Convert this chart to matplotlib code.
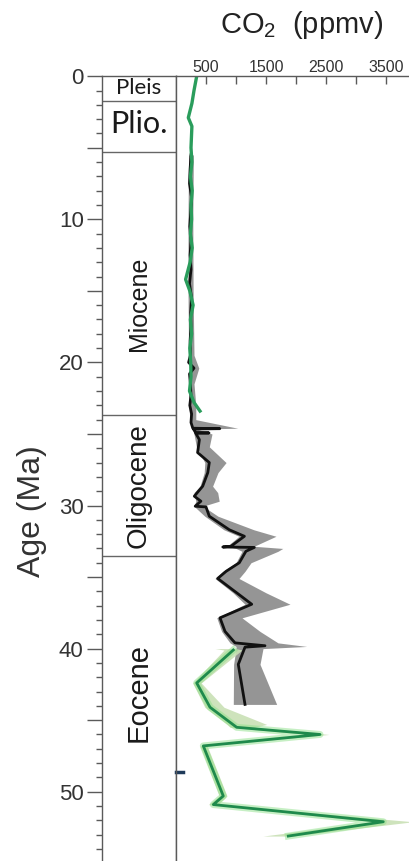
import matplotlib
matplotlib.use("Agg")
import matplotlib.pyplot as plt
from matplotlib.ticker import MultipleLocator, FuncFormatter

plt.rcParams['font.family'] = ['Liberation Sans', 'DejaVu Sans']
plt.rcParams['mathtext.fontset'] = 'custom'
plt.rcParams['mathtext.rm'] = 'Liberation Sans'
plt.rcParams['mathtext.it'] = 'Liberation Sans:italic'

# epochs (Ma)
epoch_names = ['Pleis', 'Plio.', 'Miocene', 'Oligocene', 'Eocene']
epoch_bounds = [1.7, 5.3, 23.7, 33.5]
epoch_label_age = [0.85, 3.35, 15.9, 28.6, 43.1]

# green record, 0-23 Ma
green_age = [0, 1.0, 1.9, 2.9, 3.5, 5.0, 6.0, 7.0, 8.0, 9.0, 10.0, 11.0, 12.0,
             13.0, 14.2, 15.0, 16.0, 17.0, 18.0, 19.0, 20.0, 21.0, 22.0, 22.8, 23.4]
green_co2 = [345, 300, 265, 205, 265, 250, 265, 240, 270, 250, 260, 240, 270,
             235, 160, 230, 285, 240, 260, 230, 245, 250, 225, 300, 400]

# black record with grey uncertainty band
black_age = [5.5, 6.5, 7.5, 8.5, 9.5, 10.5, 11.5, 12.5, 13.5, 14.5, 15.5, 16.5,
             17.5, 18.5, 19.5, 20.0, 20.4, 20.8, 21.5, 22.3, 23.0, 23.6, 24.2,
             24.6, 24.63, 24.66, 24.9, 24.93, 24.96, 25.4, 26.3, 27.0, 27.7,
             28.65, 29.35, 29.7, 30.05, 30.1, 30.75, 31.7, 32.15, 32.85, 32.9,
             32.93, 33.2, 34.0, 34.6, 35.1, 36.1, 36.9, 37.85, 38.8, 39.6, 39.8,
             39.9, 41.1, 43.9]
black_co2 = [250, 235, 225, 260, 245, 230, 250, 235, 250, 225, 260, 245,
             250, 235, 240, 210, 300, 225, 240, 250, 230, 260, 250,
             280, 730, 290, 330, 550, 330, 390, 360, 555, 530,
             445, 305, 415, 320, 500, 555, 890, 1140, 915, 780,
             1305, 1165, 1055, 835, 695, 1011, 1262, 733, 817, 983, 1483,
             1150, 1038, 1150]

band_age = [5.5, 10, 15, 19.5, 20.4, 21.5, 23.0, 24.0, 24.6, 24.66, 25.0, 25.9,
            27.0, 27.7, 28.65, 29.1, 29.7, 30.05, 30.75, 31.7, 32.15, 32.85,
            33.0, 33.2, 34.0, 34.6, 35.1, 36.1, 36.9, 37.85, 38.8, 39.6, 39.85,
            40.0, 41.1, 43.9]
band_lo = [210, 200, 200, 210, 230, 210, 215, 230, 260, 270, 300, 340,
           480, 470, 400, 300, 330, 300, 480, 800, 1050, 850,
           1000, 1100, 1000, 780, 650, 950, 1150, 680, 760, 900, 1000,
           1000, 960, 955]
band_hi = [290, 280, 285, 300, 380, 300, 330, 330, 1030, 350, 600, 555,
           835, 700, 610, 695, 720, 450, 700, 1300, 1667, 1300,
           1780, 1700, 1250, 1150, 1050, 1500, 1900, 1100, 1400, 1700, 2178,
           1450, 1400, 1678]

# green record, 40-53 Ma, with pale band
green2_age = [40.1, 42.4, 44.1, 45.5, 46.0, 46.8, 50.3, 50.9, 52.1, 53.1]
green2_co2 = [955, 345, 567, 1011, 2400, 455, 788, 622, 3455, 1872]
gband_age = [40.0, 40.1, 42.4, 44.1, 45.3, 45.5, 46.0, 46.8, 50.3, 50.9, 52.1, 53.1]
gband_lo = [650, 800, 280, 480, 850, 900, 2200, 400, 720, 540, 3300, 1450]
gband_hi = [1000, 1100, 420, 800, 1511, 1300, 2550, 520, 850, 700, 3950, 1950]

# small stray mark near the axis
mark_age = [48.6, 48.6]
mark_co2 = [0, 115]

co2_ticks = [500, 1000, 1500, 2000, 2500, 3000, 3500]
co2_labels = ['500', '', '1500', '', '2500', '', '3500']

W, H = 409, 861
age_max = (H - 76.2) / 14.31
top = (H - 76.2) / H
spine_c = '#5a5a5a'

fig = plt.figure(figsize=(W / 100, H / 100), dpi=100)
ax_ep = fig.add_axes([101.7 / W, 0, (176 - 101.7) / W, top])
ax = fig.add_axes([176 / W, 0, 1 - 176 / W, top], sharey=ax_ep)

# --- epoch column / age axis ---
ax_ep.set_xlim(0, 1)
ax_ep.set_ylim(age_max, 0)
ax_ep.spines['bottom'].set_visible(False)
for s in ['left', 'top', 'right']:
    ax_ep.spines[s].set_color(spine_c)
    ax_ep.spines[s].set_linewidth(1)
ax_ep.set_xticks([])
ax_ep.yaxis.set_major_locator(MultipleLocator(5))
ax_ep.yaxis.set_minor_locator(MultipleLocator(1))
ax_ep.yaxis.set_major_formatter(FuncFormatter(lambda v, p: '%d' % v if v % 10 == 0 else ''))
ax_ep.tick_params(axis='y', which='major', length=11, width=1, color=spine_c,
                  labelsize=16, labelcolor='#333333', pad=2)
ax_ep.tick_params(axis='y', which='minor', length=4, width=1, color=spine_c)

for b in epoch_bounds:
    ax_ep.axhline(b, color='#666666', lw=1)

sizes = [16, 22, 18, 20, 21]
fams = [['Lato', 'DejaVu Sans'], ['Lato', 'DejaVu Sans'], None, None, None]
for name, a, fs, fam in zip(epoch_names, epoch_label_age, sizes, fams):
    rot = 0 if name in ('Pleis', 'Plio.') else 90
    kw = {'family': fam} if fam else {}
    ax_ep.text(0.5, a, name, ha='center', va='center', rotation=rot,
               fontsize=fs, color='#1a1a1a', **kw)

fig.text(32 / W, 1 - 511 / H, 'Age (Ma)', rotation=90, ha='center', va='center',
         fontsize=23, color='#333333')

# --- CO2 panel ---
ax.set_xlim(0, (W - 176) * 1000 / 60)
for s in ['right', 'bottom']:
    ax.spines[s].set_visible(False)
for s in ['left', 'top']:
    ax.spines[s].set_color(spine_c)
    ax.spines[s].set_linewidth(1)
ax.xaxis.tick_top()
ax.set_xticks(co2_ticks)
ax.set_xticklabels(co2_labels)
ax.tick_params(axis='x', direction='in', length=6, width=1, color=spine_c,
               labelsize=11.5, labelcolor='#333333', pad=1)
ax.tick_params(axis='y', which='both', left=False, labelleft=False)

ax.fill_betweenx(band_age, band_lo, band_hi, color='#8a8a8a', alpha=0.9, lw=0)
ax.fill_betweenx(gband_age, gband_lo, gband_hi, color='#c9e0b5', alpha=0.9, lw=0)
ax.plot(black_co2, black_age, color='#111111', lw=2)
ax.plot(green_co2, green_age, color='#2a9d5c', lw=2.4)
ax.plot(green2_co2, green2_age, color='#8fe08a', lw=5, alpha=0.5)
ax.plot(green2_co2, green2_age, color='#1f8a4c', lw=2)
ax.plot(mark_co2, mark_age, color='#1f3a5a', lw=2.5, clip_on=False)

fig.text(302 / W, 1 - 33 / H, 'CO$_2$  (ppmv)', ha='center', va='baseline',
         fontsize=21, color='#222222')

fig.savefig('out.png', dpi=100)
